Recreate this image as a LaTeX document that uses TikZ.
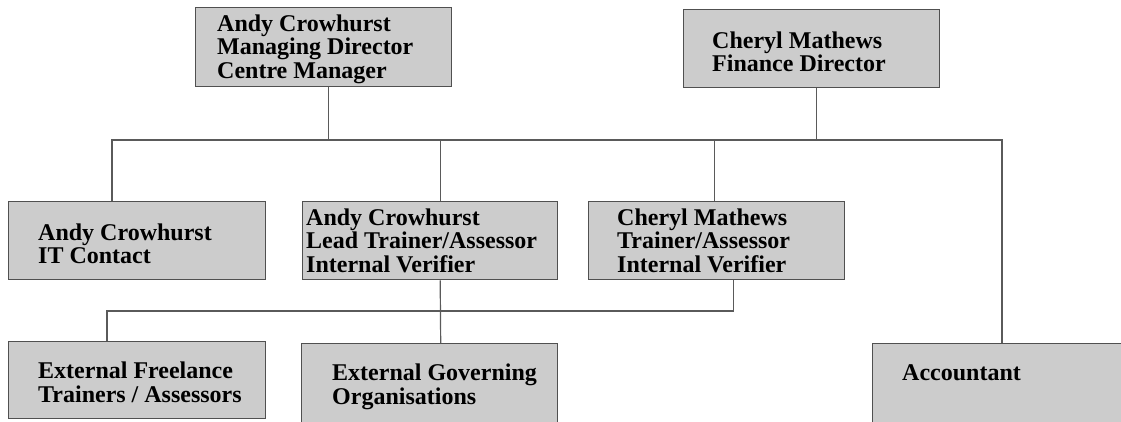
\documentclass[tikz,border=0pt]{standalone}
\usepackage{fontspec}
\setmainfont{Liberation Serif}
\usetikzlibrary{positioning}

\definecolor{boxfill}{HTML}{CCCCCC}
\definecolor{boxline}{HTML}{505050}
\definecolor{linkline}{HTML}{5A5A5A}
\newcommand{\orgfont}{\bfseries\fontsize{24}{23.5}\selectfont}

\begin{document}
\begin{tikzpicture}[x=1pt,y=-1pt,
  org box/.style={rectangle,draw=boxline,fill=boxfill,line width=1.4pt,
    anchor=north west,minimum width=256pt,minimum height=78pt,inner sep=0pt},
  org text/.style={inner sep=0pt,align=left,anchor=west,font=\orgfont},
  link/.style={draw=linkline,line width=1.2pt}]

  \useasboundingbox (0,0) rectangle (1121,421);
  \clip (0,0) rectangle (1121,421);

  % top row
  \node[org box,minimum height=79pt] (md) at (195,7) {};
  \node[org box] (fd) at (683,9) {};
  % middle row
  \node[org box,minimum width=257pt] (it) at (8,201) {};
  \node[org box,minimum width=255pt] (lead) at (302,201) {};
  \node[org box] (trainer) at (588,201) {};
  % bottom row
  \node[org box,minimum width=257pt,minimum height=77pt] (freelance) at (8,341) {};
  \node[org box,minimum height=86pt] (gov) at (301,343) {};
  \node[org box,minimum width=262pt,minimum height=100pt] (acct) at (872,343) {};

  \node[org text] (mdText) at ([xshift=22pt,yshift=-2pt]md.west)
    {Andy Crowhurst\\Managing Director\\Centre Manager};
  \node[org text] (fdText) at ([xshift=29pt,yshift=-3pt]fd.west)
    {Cheryl Mathews\\Finance Director};
  \node[org text] (itText) at ([xshift=30pt,yshift=-3pt]it.west)
    {Andy Crowhurst\\IT Contact};
  \node[org text] (leadText) at ([xshift=4pt]lead.west)
    {Andy Crowhurst\\Lead Trainer/Assessor\\Internal Verifier};
  \node[org text] (trainerText) at ([xshift=29pt]trainer.west)
    {Cheryl Mathews\\Trainer/Assessor\\Internal Verifier};
  \node[org text] (freelanceText) at ([xshift=30pt,yshift=-2pt]freelance.west)
    {External Freelance\\Trainers / Assessors};
  \node[org text] (govText) at ([xshift=31pt]gov.west)
    {External Governing\\Organisations};
  \node[org text,anchor=base west] (acctText) at ([xshift=30pt,yshift=-37pt]acct.north west)
    {Accountant};

  % upper bus
  \coordinate (busL) at (112,140);
  \coordinate (busR) at (1002,140);
  \draw[link] (busL |- it.north) -- (busL) -- (busR) -- (busR |- acct.north);
  \draw[link] ([xshift=5pt]md.south) -- ([xshift=5pt]md.south |- busL);
  \draw[link] ([xshift=5pt]fd.south) -- ([xshift=5pt]fd.south |- busL);
  \draw[link] ([xshift=10pt]lead.north) -- ([xshift=10pt]lead.north |- busL);
  \draw[link] ([xshift=-2pt]trainer.north) -- ([xshift=-2pt]trainer.north |- busL);

  % lower bus
  \coordinate (busB) at (107,311);
  \draw[link] (busB |- freelance.north) -- (busB) -| ([xshift=17pt]trainer.south);
  \draw[link] ([xshift=10pt]lead.south) -- ([xshift=11pt]gov.north);

\end{tikzpicture}
\end{document}
